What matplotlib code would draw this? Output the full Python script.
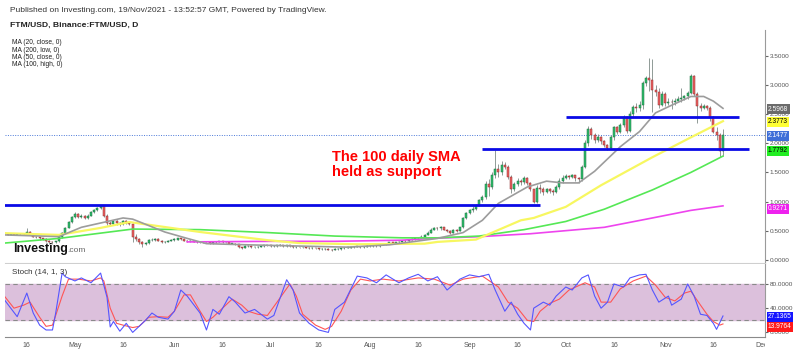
import numpy as np
import pandas as pd
import matplotlib
matplotlib.use("Agg")
import matplotlib.pyplot as plt
import matplotlib.dates as mdates
from matplotlib.transforms import Bbox, TransformedBbox

plt.rcParams['font.family'] = ['Liberation Sans', 'DejaVu Sans']

# -------------------------
# Daily FTM/USD candles, 9 Apr - 19 Nov 2021
# -------------------------
close = [
    0.44, 0.43, 0.44, 0.43, 0.44, 0.45, 0.44, 0.48, 0.43, 0.40, 0.39, 0.37, 0.36, 0.33, 0.31, 0.30,
    0.32, 0.39, 0.47, 0.55, 0.65, 0.74,
    0.79, 0.74, 0.76, 0.72, 0.76, 0.82, 0.86, 0.89, 0.92, 0.76, 0.64, 0.62, 0.66, 0.63, 0.61, 0.66,
    0.64, 0.62, 0.40, 0.36, 0.30, 0.27, 0.29, 0.34, 0.35, 0.36, 0.33, 0.30, 0.31, 0.33, 0.35,
    0.35, 0.37, 0.36, 0.33, 0.32, 0.33, 0.31, 0.30, 0.31, 0.30, 0.30, 0.29, 0.30, 0.31, 0.32, 0.30,
    0.30, 0.28, 0.28, 0.27, 0.22, 0.21, 0.24, 0.24, 0.22, 0.22, 0.23, 0.24, 0.25, 0.25,
    0.24, 0.24, 0.25, 0.26, 0.24, 0.25, 0.24, 0.22, 0.23, 0.22, 0.22, 0.21, 0.20, 0.21, 0.20, 0.19,
    0.19, 0.19, 0.18, 0.17, 0.19, 0.19, 0.20, 0.21, 0.21, 0.22, 0.23, 0.23, 0.22, 0.23, 0.24,
    0.24, 0.25, 0.24, 0.26, 0.27, 0.28, 0.30, 0.29, 0.30, 0.31, 0.33, 0.32, 0.35, 0.36, 0.37, 0.38,
    0.40, 0.43, 0.47, 0.52, 0.55, 0.54, 0.56, 0.52, 0.50, 0.47, 0.52, 0.50, 0.56, 0.72, 0.80,
    0.85, 0.88, 0.93, 1.02, 1.08, 1.30, 1.25, 1.45, 1.55, 1.50, 1.62, 1.60, 1.42, 1.22, 1.30, 1.36,
    1.33, 1.40, 1.32, 1.22, 1.00, 1.24, 1.22, 1.17, 1.21, 1.18, 1.16, 1.25, 1.36, 1.40,
    1.44, 1.42, 1.45, 1.40, 1.38, 1.60, 2.00, 2.25, 2.14, 2.06, 2.10, 2.03, 1.97, 1.91, 2.10, 2.27,
    2.20, 2.31, 2.45, 2.21, 2.50, 2.62, 2.60, 2.66, 3.03, 3.11, 3.08, 2.91, 2.88, 2.65, 2.85,
    2.68, 2.71, 2.70, 2.72, 2.75, 2.77, 2.80, 2.86, 3.15, 2.85, 2.63, 2.61, 2.63, 2.60, 2.45, 2.20,
    2.14, 1.86, 2.1477,
]
high = [
    0.46, 0.45, 0.45, 0.45, 0.45, 0.46, 0.46, 0.55, 0.49, 0.44, 0.41, 0.40, 0.38, 0.37, 0.34, 0.32,
    0.33, 0.40, 0.48, 0.57, 0.67, 0.76,
    0.83, 0.80, 0.78, 0.77, 0.78, 0.84, 0.88, 0.91, 0.95, 0.93, 0.78, 0.67, 0.68, 0.68, 0.65, 0.68,
    0.68, 0.67, 0.64, 0.44, 0.38, 0.32, 0.31, 0.36, 0.37, 0.38, 0.37, 0.34, 0.33, 0.34, 0.36,
    0.37, 0.38, 0.38, 0.37, 0.34, 0.34, 0.34, 0.32, 0.32, 0.32, 0.31, 0.31, 0.31, 0.32, 0.33, 0.33,
    0.31, 0.31, 0.29, 0.29, 0.28, 0.23, 0.25, 0.26, 0.25, 0.23, 0.24, 0.25, 0.26, 0.26,
    0.26, 0.25, 0.26, 0.27, 0.26, 0.26, 0.25, 0.25, 0.24, 0.23, 0.23, 0.23, 0.22, 0.22, 0.21, 0.21,
    0.20, 0.20, 0.20, 0.19, 0.20, 0.20, 0.21, 0.22, 0.22, 0.23, 0.24, 0.24, 0.24, 0.24, 0.25,
    0.25, 0.26, 0.26, 0.27, 0.28, 0.29, 0.31, 0.31, 0.31, 0.32, 0.34, 0.34, 0.36, 0.37, 0.38, 0.39,
    0.42, 0.45, 0.49, 0.54, 0.57, 0.57, 0.58, 0.57, 0.53, 0.51, 0.53, 0.53, 0.57, 0.74, 0.83,
    0.88, 0.92, 0.96, 1.05, 1.12, 1.35, 1.38, 1.50, 1.88, 1.65, 1.70, 1.68, 1.62, 1.45, 1.34, 1.40,
    1.38, 1.44, 1.42, 1.33, 1.22, 1.28, 1.30, 1.25, 1.24, 1.23, 1.21, 1.28, 1.40, 1.45,
    1.47, 1.46, 1.48, 1.46, 1.42, 1.63, 2.05, 2.30, 2.28, 2.18, 2.15, 2.12, 2.06, 1.99, 2.14, 2.30,
    2.30, 2.35, 2.48, 2.46, 2.55, 2.66, 2.68, 2.72, 3.06, 3.15, 3.46, 3.45, 3.00, 2.94, 2.90,
    2.88, 2.78, 2.76, 2.77, 2.80, 2.94, 2.83, 2.90, 3.18, 3.17, 2.88, 2.68, 2.67, 2.66, 2.63, 2.47,
    2.28, 2.18, 2.25,
]
low = [
    0.42, 0.42, 0.42, 0.42, 0.42, 0.43, 0.43, 0.43, 0.42, 0.39, 0.37, 0.35, 0.34, 0.31, 0.27, 0.28,
    0.29, 0.31, 0.38, 0.46, 0.54, 0.63,
    0.72, 0.72, 0.72, 0.70, 0.71, 0.75, 0.80, 0.84, 0.87, 0.74, 0.60, 0.58, 0.60, 0.60, 0.58, 0.60,
    0.62, 0.60, 0.30, 0.33, 0.27, 0.22, 0.25, 0.28, 0.32, 0.33, 0.32, 0.29, 0.29, 0.30, 0.32,
    0.33, 0.34, 0.35, 0.32, 0.31, 0.31, 0.30, 0.29, 0.29, 0.29, 0.29, 0.28, 0.28, 0.29, 0.30, 0.29,
    0.29, 0.27, 0.27, 0.26, 0.20, 0.19, 0.20, 0.22, 0.21, 0.21, 0.21, 0.22, 0.23, 0.24,
    0.23, 0.23, 0.23, 0.24, 0.23, 0.23, 0.23, 0.21, 0.21, 0.21, 0.21, 0.20, 0.19, 0.19, 0.19, 0.18,
    0.18, 0.18, 0.17, 0.16, 0.17, 0.18, 0.18, 0.19, 0.20, 0.21, 0.21, 0.22, 0.21, 0.21, 0.22,
    0.23, 0.23, 0.23, 0.23, 0.25, 0.26, 0.27, 0.28, 0.28, 0.29, 0.30, 0.31, 0.31, 0.34, 0.35, 0.36,
    0.37, 0.39, 0.42, 0.46, 0.51, 0.52, 0.52, 0.51, 0.48, 0.45, 0.46, 0.48, 0.49, 0.55, 0.70,
    0.78, 0.83, 0.86, 0.92, 1.00, 1.05, 1.10, 1.22, 1.40, 1.42, 1.45, 1.55, 1.38, 1.15, 1.18, 1.26,
    1.28, 1.30, 1.28, 1.18, 0.97, 0.98, 1.15, 1.12, 1.14, 1.14, 1.12, 1.14, 1.22, 1.32,
    1.38, 1.38, 1.40, 1.36, 1.32, 1.36, 1.58, 1.95, 2.08, 2.00, 2.02, 1.98, 1.94, 1.89, 1.90, 2.05,
    2.15, 2.18, 2.28, 2.18, 2.20, 2.45, 2.54, 2.55, 2.58, 2.98, 2.90, 2.54, 2.80, 2.60, 2.63,
    2.63, 2.66, 2.58, 2.66, 2.70, 2.70, 2.74, 2.76, 2.84, 2.80, 2.35, 2.55, 2.58, 2.56, 2.38, 2.17,
    2.05, 1.77, 1.78,
]
dates = pd.date_range("2021-04-09", periods=len(close), freq="D")

# -------------------------
# Moving averages (vertices)
# -------------------------
ma20_days = ["04-09", "04-26", "05-03", "05-16", "05-19", "05-29", "06-05", "06-11", "06-24",
             "07-17", "07-25", "08-07", "08-22", "08-30", "09-05", "09-10", "09-19", "09-25",
             "09-30", "10-05", "10-10", "10-18", "10-24", "10-29", "11-03", "11-09", "11-13",
             "11-16", "11-19"]
ma20_vals = [0.43, 0.40, 0.56, 0.72, 0.70, 0.48, 0.37, 0.28, 0.26, 0.23, 0.22, 0.26, 0.37, 0.47,
             0.68, 0.97, 1.25, 1.35, 1.32, 1.32, 1.52, 1.94, 2.20, 2.52, 2.65, 2.80, 2.80, 2.72,
             2.5968]

ma50_days = ["04-09", "04-26", "05-09", "05-18", "06-09", "06-30", "07-10", "07-28", "08-18",
             "08-22", "09-03", "09-17", "09-21", "10-01", "10-12", "10-28", "11-09", "11-19"]
ma50_vals = [0.46, 0.43, 0.55, 0.65, 0.48, 0.34, 0.29, 0.27, 0.28, 0.31, 0.35, 0.68, 0.72, 0.91,
             1.28, 1.76, 2.10, 2.3773]

ma100_days = ["04-09", "04-26", "05-19", "06-09", "06-30", "07-21", "08-11", "08-22", "09-04",
              "09-18", "10-01", "10-13", "10-28", "11-09", "11-19"]
ma100_vals = [0.29, 0.37, 0.53, 0.52, 0.47, 0.41, 0.38, 0.38, 0.41, 0.52, 0.66, 0.87, 1.20, 1.50,
              1.7792]

ma200_days = ["06-05", "07-01", "07-21", "08-11", "08-20", "09-04", "09-20", "10-13", "10-28",
              "11-09", "11-19"]
ma200_vals = [0.31, 0.32, 0.32, 0.34, 0.37, 0.40, 0.45, 0.56, 0.72, 0.85, 0.9271]

# horizontal levels: price, from, to
levels = [(0.94, "04-08", "09-23"), (1.90, "09-05", "11-27"), (2.45, "10-01", "11-24")]
last_price = 2.1477

# -------------------------
# Stochastic (14, 1, 3)
# -------------------------
k_days = ["04-09", "04-13", "04-16", "04-18", "04-20", "04-22", "04-24", "04-25", "04-27", "04-28",
          "05-01", "05-03", "05-06", "05-09", "05-11", "05-12", "05-13", "05-15", "05-17", "05-19",
          "05-21", "05-23", "05-25", "05-27", "05-30", "06-01", "06-03", "06-05", "06-09", "06-11",
          "06-13", "06-15", "06-18", "06-20", "06-23", "06-26", "06-30", "07-02", "07-06", "07-08",
          "07-10", "07-13", "07-16", "07-19", "07-21", "07-24", "07-28", "07-31", "08-03", "08-06",
          "08-10", "08-13", "08-16", "08-19", "08-22", "08-25", "08-29", "09-01", "09-04", "09-07",
          "09-09", "09-12", "09-14", "09-16", "09-18", "09-20", "09-21", "09-24", "09-26", "09-28",
          "10-01", "10-03", "10-06", "10-08", "10-10", "10-12", "10-14", "10-16", "10-19", "10-21",
          "10-24", "10-26", "10-28", "10-30", "11-02", "11-03", "11-06", "11-08", "11-10", "11-12",
          "11-14", "11-16", "11-17", "11-19"]
k_vals = [54, 26, 65, 32, 12, 4, 4, 32, 98, 92,
          85, 90, 82, 98, 58, 9, 18, 2, 15, 0,
          10, 20, 32, 25, 22, 35, 70, 60, 32, 4,
          38, 30, 59, 50, 32, 38, 22, 28, 87, 70,
          32, 15, 4, 0, 38, 50, 93, 90, 82, 95,
          82, 90, 96, 85, 92, 70, 88, 95, 92, 96,
          70, 35, 50, 30, 15, 4, 40, 50, 45, 60,
          75, 70, 90, 95, 60, 40, 50, 80, 75, 90,
          95, 96, 70, 50, 60, 45, 55, 80, 60, 30,
          28, 15, 5, 27.1365]

d_days = ["04-09", "04-12", "04-15", "04-17", "04-20", "04-22", "04-24", "04-27", "04-29", "05-02",
          "05-06", "05-09", "05-10", "05-12", "05-14", "05-16", "05-19", "05-21", "05-24", "05-27",
          "05-30", "06-01", "06-04", "06-06", "06-09", "06-11", "06-13", "06-16", "06-19", "06-22",
          "06-24", "06-27", "06-30", "07-03", "07-07", "07-09", "07-11", "07-15", "07-18", "07-20",
          "07-23", "07-26", "07-29", "08-01", "08-05", "08-10", "08-16", "08-21", "08-26", "08-30",
          "09-05", "09-10", "09-13", "09-16", "09-19", "09-21", "09-23", "09-26", "09-29", "10-02",
          "10-07", "10-10", "10-12", "10-15", "10-18", "10-22", "10-26", "10-29", "11-01", "11-04",
          "11-07", "11-09", "11-12", "11-14", "11-16", "11-18", "11-19"]
d_vals = [60, 40, 45, 50, 25, 10, 12, 60, 88, 88,
          85, 90, 85, 40, 15, 12, 8, 10, 25, 26,
          25, 35, 62, 62, 35, 18, 25, 40, 55, 45,
          35, 30, 28, 50, 80, 60, 30, 12, 5, 10,
          35, 70, 88, 85, 88, 85, 90, 88, 78, 88,
          93, 75, 50, 40, 20, 18, 35, 48, 55, 70,
          82, 75, 50, 50, 72, 85, 93, 78, 58, 52,
          65, 68, 45, 30, 18, 12, 13.9764]


def to_num(days):
    return mdates.date2num(pd.to_datetime(["2021-" + s for s in days]))


# -------------------------
# Figure layout (pixel measured)
# -------------------------
W, H = 800, 352
fig = plt.figure(figsize=(W / 100, H / 100), dpi=100)
L, R = 5 / W, 765 / W
ax = fig.add_axes([L, 1 - 263 / H, R - L, (263 - 30) / H])
ax2 = fig.add_axes([L, 1 - 336.7 / H, R - L, (336.7 - 264) / H], sharex=ax)

may1 = mdates.date2num(pd.Timestamp("2021-05-01"))
ax.set_xlim(may1 - 21.8, may1 + 215.1)
ax.set_ylim(-0.051, 3.938)
ax2.set_ylim(-7.1, 113)

# -------------------------
# Candles
# -------------------------
x = mdates.date2num(dates)
c = np.array(close)
o = np.r_[c[0], c[:-1]]
hi = np.array(high)
lo = np.array(low)
up = c >= o
body_col = np.where(up, "#2fbf6c", "#ef6464")
edge_col = np.where(up, "#1d6b3f", "#8a2a2a")
ax.vlines(x, lo, hi, color="#7d8a86", lw=0.6, zorder=2)
ax.bar(x, np.maximum(np.abs(c - o), 0.006), bottom=np.minimum(o, c), width=0.62,
       color=body_col, edgecolor=edge_col, linewidth=0.35, zorder=3)

# moving averages
ax.plot(to_num(ma200_days), ma200_vals, color="#ee44ee", lw=1.2, zorder=4)
ax.plot(to_num(ma100_days), ma100_vals, color="#55e855", lw=1.2, zorder=4)
ax.plot(to_num(ma50_days), ma50_vals, color="#f7f760", lw=1.6, zorder=4)
ax.plot(to_num(ma20_days), ma20_vals, color="#9c9c9c", lw=1.2, zorder=4)

# support / resistance lines
for price, d0, d1 in levels:
    ax.plot(to_num([d0, d1]), [price, price], color="#0a0ae6", lw=2, zorder=5,
            solid_capstyle="butt")
ax.axhline(last_price, color="#4a78d8", lw=0.7, ls=(0, (1, 1.5)), zorder=1)

ax.text(to_num(["07-20"])[0], 1.63, "The 100 daily SMA\nheld as support", color="#ff0000",
        fontsize=10.5, fontweight="bold", va="center", ha="left", linespacing=1.1)

# axes styling
for a in (ax, ax2):
    for s in ("top", "left"):
        a.spines[s].set_visible(False)
    a.spines["right"].set_color("#9a9a9a")
    a.yaxis.tick_right()
    a.tick_params(axis="y", length=2, pad=1.5, labelsize=4.6, colors="#666666",
                  labelcolor="#555555")
ax.spines["bottom"].set_color("#cfcfcf")
ax.tick_params(axis="x", bottom=False, labelbottom=False)
ax.set_yticks(np.arange(0, 3.51, 0.5))
ax.yaxis.set_major_formatter(plt.FormatStrFormatter("%.4f"))

# stochastic panel
ax2.axhspan(20, 80, color="#dcc0dc", zorder=0)
for lvl in (20, 80):
    ax2.axhline(lvl, color="#8a8a8a", lw=0.8, ls=(0, (4, 3)), zorder=1)
ax2.plot(to_num(k_days), k_vals, color="#5555ff", lw=0.8, zorder=3)
ax2.plot(to_num(d_days), d_vals, color="#ff5555", lw=0.8, zorder=2)
ax2.set_yticks([0, 40, 80])
ax2.yaxis.set_major_formatter(plt.FormatStrFormatter("%.4f"))
ax2.spines["bottom"].set_color("#8a8a8a")

tick_dates = ["04-16", "05-01", "05-16", "06-01", "06-16", "07-01", "07-16", "08-01", "08-16",
              "09-01", "09-16", "10-01", "10-16", "11-01", "11-16", "12-01"]
tick_labels = ["16", "May", "16", "Jun", "16", "Jul", "16", "Aug", "16",
               "Sep", "16", "Oct", "16", "Nov", "16", "Dec"]
ax2.set_xticks(to_num(tick_dates))
ax2.set_xticklabels(tick_labels)
ax2.tick_params(axis="x", length=0, pad=4, labelsize=5, labelcolor="#555555")
clip = TransformedBbox(Bbox([[0, -1], [1, 1]]), ax2.transAxes)
for lab in ax2.get_xticklabels():
    lab.set_clip_box(clip)
    lab.set_clip_on(True)

# -------------------------
# Texts
# -------------------------
fig.text(10 / W, 1 - 10 / H,
         "Published on Investing.com, 19/Nov/2021 - 13:52:57 GMT, Powered by TradingView.",
         fontsize=6.0, color="#333333", va="center")
fig.text(10 / W, 1 - 25 / H, "FTM/USD, Binance:FTM/USD, D", fontsize=6.1,
         fontweight="bold", color="#222222", va="center")
for i, t in enumerate(["MA (20, close, 0)", "MA (200, low, 0)", "MA (50, close, 0)",
                       "MA (100, high, 0)"]):
    fig.text(12 / W, 1 - (43 + 7.1 * i) / H, t, fontsize=4.8, color="#222222", va="center")
fig.text(12 / W, 1 - 273 / H, "Stoch (14, 1, 3)", fontsize=5.8, color="#333333", va="center")
fig.text(12.7 / W, 1 - 252 / H, "Investing", fontsize=9, fontweight="bold", color="#111111",
         va="baseline")
fig.text(67.5 / W, 1 - 252 / H, ".com", fontsize=6, color="#666666", va="baseline")

# price badges on the right scale: (label, y pixel, bg, fg)
badges = [("2.5968", 109.3, "#6b6b6b", "white"), ("2.3773", 121.7, "#ffff33", "black"),
          ("2.1477", 135.7, "#3f6fd8", "white"), ("1.7792", 151.0, "#22ee22", "black"),
          ("0.9271", 209.0, "#ee22ee", "white"), ("27.1365", 316.7, "#1515ff", "white"),
          ("13.9764", 326.7, "#ff1a1a", "white")]
for lab, ypx, bg, fg in badges:
    fig.text(768 / W, 1 - ypx / H, lab, fontsize=4.8, color=fg, va="center", ha="left",
             bbox=dict(boxstyle="square,pad=0.2", fc=bg, ec="none"))

fig.savefig("out.png", dpi=100)
